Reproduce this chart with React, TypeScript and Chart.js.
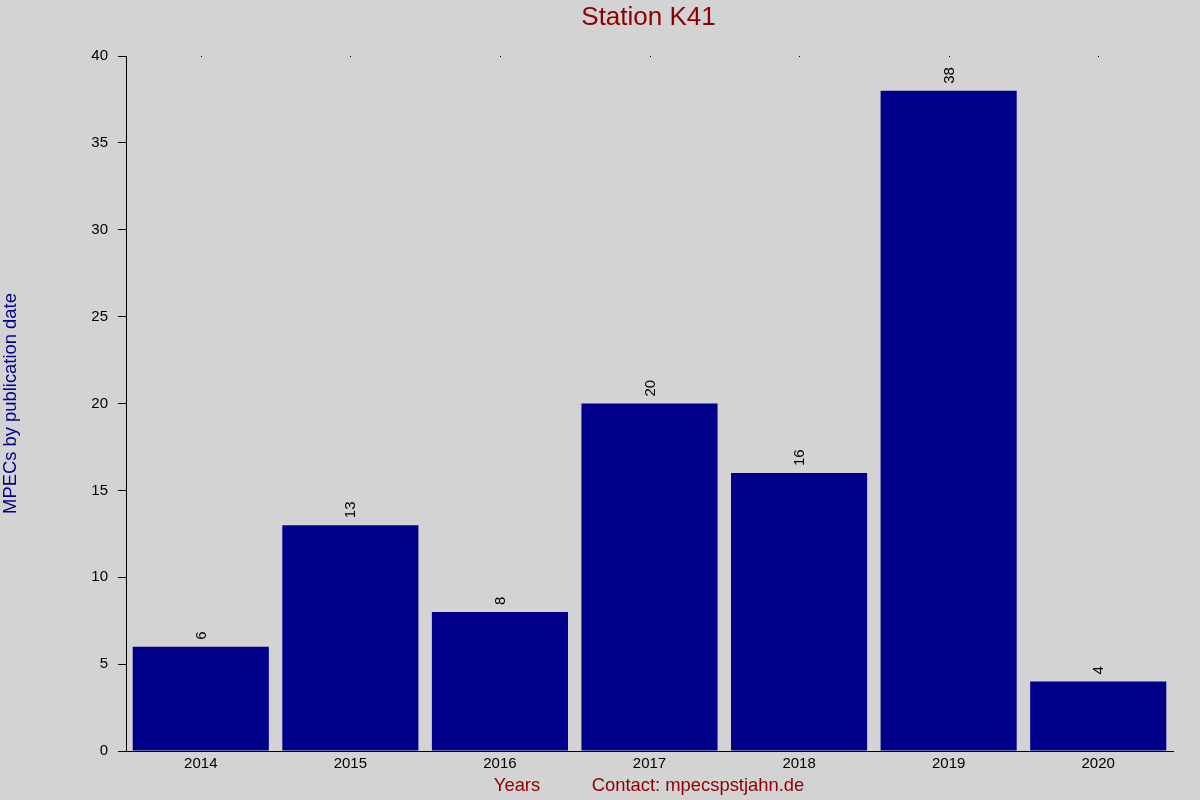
import { useEffect, useRef } from "react";
import { Chart, registerables } from "chart.js";

Chart.register(...registerables);

const years = ["2014", "2015", "2016", "2017", "2018", "2019", "2020"];
const mpecCounts = [6, 13, 8, 20, 16, 38, 4];
const yMax = 40;
const yStep = 5;

const FONT = "'Liberation Sans', Arial, sans-serif";

// draws title, axis texts, bar value labels and the small top ticks
const overlayPlugin = {
  id: "overlay",
  beforeDraw(chart: any) {
    const { ctx, width, height } = chart;
    ctx.save();
    ctx.fillStyle = "#d3d3d3";
    ctx.fillRect(0, 0, width, height);
    ctx.restore();
  },
  afterDraw(chart: any) {
    const { ctx, chartArea } = chart;
    const xScale = chart.scales.x;
    const midX = (chartArea.left + chartArea.right) / 2;
    const midY = (chartArea.top + chartArea.bottom) / 2;

    ctx.save();
    // title
    ctx.fillStyle = "#8b0000";
    ctx.font = `26px ${FONT}`;
    ctx.textAlign = "center";
    ctx.textBaseline = "middle";
    ctx.fillText("Station K41", midX - 1, 18);

    // bottom texts
    ctx.font = `18.4px ${FONT}`;
    ctx.fillText("Years", 517, 786);
    ctx.fillText("Contact: mpecspstjahn.de", 698, 786);

    // y title
    ctx.save();
    ctx.fillStyle = "#00008b";
    ctx.translate(11, midY);
    ctx.rotate(-Math.PI / 2);
    ctx.fillText("MPECs by publication date", 0, 0);
    ctx.restore();

    // small ticks along the top
    ctx.fillStyle = "#000";
    years.forEach((_, i) => {
      const x = Math.round(xScale.getPixelForValue(i));
      ctx.fillRect(x, chartArea.top, 1, 1);
    });

    // value labels, rotated
    const meta = chart.getDatasetMeta(0);
    ctx.font = `15px ${FONT}`;
    ctx.textAlign = "left";
    ctx.textBaseline = "middle";
    meta.data.forEach((bar: any, i: number) => {
      ctx.save();
      ctx.translate(bar.x + 1, bar.y - 7);
      ctx.rotate(-Math.PI / 2);
      ctx.fillText(String(mpecCounts[i]), 0, 0);
      ctx.restore();
    });
    ctx.restore();
  },
};

const App = () => {
  const chartRef = useRef<HTMLCanvasElement>(null);

  useEffect(() => {
    const ctx = chartRef.current!.getContext("2d")!;

    const myChart = new Chart(ctx, {
      type: "bar",
      data: {
        labels: years,
        datasets: [
          {
            label: "MPECs",
            data: mpecCounts,
            backgroundColor: "#00008b",
            borderWidth: 0,
            barPercentage: 0.91,
            categoryPercentage: 1,
          },
        ],
      },
      options: {
        responsive: false,
        animation: false,
        devicePixelRatio: 1,
        layout: {
          padding: { top: 56, right: 27, bottom: 0, left: 0 },
        },
        plugins: {
          legend: { display: false },
          title: { display: false },
          tooltip: { enabled: false },
        },
        scales: {
          x: {
            grid: { drawOnChartArea: false, drawTicks: false },
            border: { display: true, color: "#000", width: 1 },
            ticks: {
              color: "#000",
              padding: 4,
              maxRotation: 0,
              font: { family: FONT, size: 15 },
            },
            afterFit: (scale: any) => {
              scale.height = 49;
            },
          },
          y: {
            min: 0,
            max: yMax,
            grid: {
              drawOnChartArea: false,
              drawTicks: true,
              tickLength: 8,
              color: "#000",
            },
            border: { display: true, color: "#000", width: 1 },
            ticks: {
              stepSize: yStep,
              color: "#000",
              padding: 10,
              font: { family: FONT, size: 15 },
            },
            afterFit: (scale: any) => {
              scale.width = 126;
            },
          },
        },
      },
      plugins: [overlayPlugin],
    });

    return () => {
      myChart.destroy();
    };
  }, []);

  return (
    <div style={{ position: "fixed", left: 0, top: 0, width: 1200, height: 800 }}>
      <canvas ref={chartRef} width={1200} height={800} style={{ display: "block" }} />
    </div>
  );
};

export default App;
